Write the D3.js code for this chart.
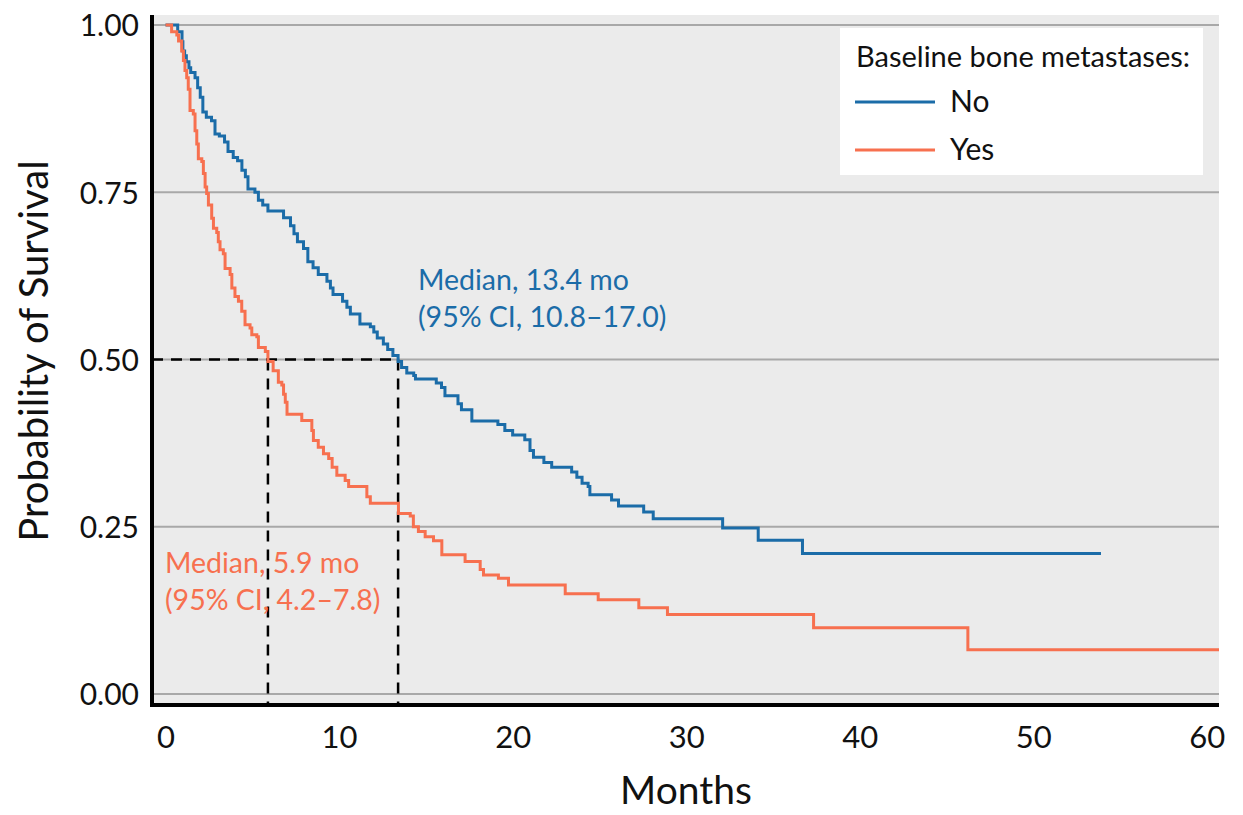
<!DOCTYPE html>
<html>
<head>
<meta charset="utf-8">
<script src="https://cdn.jsdelivr.net/npm/d3@7"></script>
<style>
  body { margin: 0; background: #fff; }
  text { font-family: Lato, "Open Sans", sans-serif; }
</style>
</head>
<body>
<div id="corpo"></div>
<script>
// survival steps: [months, probability]
var timesNo = [0, 0.7, 0.95, 1.0, 1.1, 1.2, 1.35, 1.45, 1.7, 1.85, 2.0, 2.15, 2.35, 2.65, 2.85, 3.1, 3.4, 3.6, 3.9, 4.15, 4.4, 4.6, 4.75, 5.15, 5.35, 5.6, 5.9, 6.8, 7.2, 7.4, 7.6, 7.95, 8.2, 8.5, 8.8, 9.3, 9.5, 9.65, 10.2, 10.45, 10.65, 11.2, 11.8, 12.0, 12.2, 12.55, 12.8, 13.1, 13.4, 13.6, 13.9, 14.3, 14.4, 15.6, 15.9, 16.1, 16.85, 17.05, 17.65, 19.15, 19.55, 20.0, 20.7, 21.0, 21.2, 21.8, 22.25, 23.4, 23.7, 24.0, 24.35, 24.45, 25.7, 26.1, 27.55, 28.1, 32.1, 34.15, 36.7, 53.9];
var survNo = [1.0, 0.99, 0.975, 0.961, 0.954, 0.945, 0.936, 0.929, 0.921, 0.906, 0.892, 0.870, 0.862, 0.857, 0.837, 0.834, 0.825, 0.811, 0.802, 0.797, 0.783, 0.773, 0.755, 0.750, 0.738, 0.731, 0.722, 0.712, 0.700, 0.688, 0.676, 0.666, 0.646, 0.637, 0.627, 0.617, 0.607, 0.597, 0.587, 0.578, 0.568, 0.553, 0.549, 0.541, 0.532, 0.523, 0.515, 0.506, 0.497, 0.488, 0.480, 0.476, 0.471, 0.465, 0.458, 0.446, 0.434, 0.425, 0.408, 0.403, 0.394, 0.387, 0.380, 0.364, 0.354, 0.346, 0.339, 0.332, 0.324, 0.315, 0.310, 0.298, 0.290, 0.281, 0.272, 0.262, 0.248, 0.230, 0.210, 0.210];

var timesYes = [0, 0.35, 0.65, 0.75, 0.93, 1.03, 1.12, 1.22, 1.31, 1.41, 1.6, 1.7, 1.8, 1.89, 2.09, 2.18, 2.28, 2.37, 2.47, 2.66, 2.76, 2.95, 3.04, 3.14, 3.33, 3.43, 3.72, 3.82, 4.0, 4.2, 4.39, 4.58, 4.87, 4.97, 5.26, 5.35, 5.75, 5.9, 6.2, 6.5, 6.7, 6.8, 6.9, 7.0, 7.85, 8.43, 8.52, 8.8, 9.1, 9.4, 9.6, 9.87, 10.35, 10.55, 11.6, 11.8, 13.42, 14.1, 14.28, 14.57, 14.96, 15.44, 15.92, 17.26, 18.13, 18.32, 19.18, 19.76, 23.03, 24.93, 27.27, 28.92, 37.34, 46.23, 60.7];
var survYes = [1.0, 0.99, 0.985, 0.976, 0.961, 0.947, 0.932, 0.921, 0.904, 0.872, 0.867, 0.842, 0.822, 0.800, 0.796, 0.778, 0.758, 0.748, 0.731, 0.711, 0.696, 0.690, 0.676, 0.664, 0.658, 0.636, 0.627, 0.607, 0.594, 0.587, 0.572, 0.552, 0.547, 0.537, 0.534, 0.518, 0.512, 0.497, 0.483, 0.466, 0.462, 0.448, 0.436, 0.418, 0.409, 0.394, 0.379, 0.369, 0.359, 0.352, 0.339, 0.327, 0.319, 0.310, 0.295, 0.285, 0.270, 0.266, 0.250, 0.243, 0.235, 0.229, 0.208, 0.198, 0.186, 0.178, 0.173, 0.163, 0.150, 0.141, 0.129, 0.119, 0.099, 0.066, 0.066];

var xTicks = [0, 10, 20, 30, 40, 50, 60];
var yTicks = [0, 0.25, 0.5, 0.75, 1.0];
var groups = ["No", "Yes"];
var medians = [13.4, 5.9];
var medianLabels = [["Median, 13.4 mo", "(95% CI, 10.8\u201317.0)"], ["Median, 5.9 mo", "(95% CI, 4.2\u20137.8)"]];

var width = 1243, height = 815;
var pLeft = 152, pRight = 1219, pTop = 15, pBottom = 705;

function color(g){
    var colors = { "No": "#1b6ca8", "Yes": "#f7704f" };
    return colors[g];
}

var x = d3.scaleLinear().domain([-0.78, 60.7]).range([pLeft, pRight]);
var y = d3.scaleLinear().domain([-0.0164, 1.0149]).range([pBottom, pTop]);

var svg = d3.select("#corpo").append("svg")
    .attr("width", width)
    .attr("height", height);

// panel background
svg.append("rect")
    .attr("x", pLeft).attr("y", pTop)
    .attr("width", pRight - pLeft).attr("height", pBottom - pTop)
    .style("fill", "#ebebeb");

svg.append("clipPath").attr("id", "clip")
    .append("rect")
    .attr("x", pLeft).attr("y", pTop)
    .attr("width", pRight - pLeft).attr("height", pBottom - pTop);

// grid
svg.selectAll(".grid")
    .data(yTicks)
    .enter().append("line")
    .attr("class", "grid")
    .attr("x1", pLeft).attr("x2", pRight)
    .attr("y1", function(d){ return y(d); })
    .attr("y2", function(d){ return y(d); })
    .style("stroke", "#a8a8a8")
    .style("stroke-width", 2);

// axes (labels only, lines drawn below)
var yAxis = svg.append("g")
    .attr("transform", "translate(" + (pLeft - 10) + ",0)")
    .call(d3.axisLeft(y).tickValues(yTicks).tickFormat(d3.format(".2f")).tickSize(0));
yAxis.select(".domain").remove();
yAxis.selectAll("text")
    .attr("dy", ".36em")
    .style("font-family", "Lato")
    .style("font-size", "30px")
    .style("fill", "#111");

var xAxis = svg.append("g")
    .attr("transform", "translate(0," + (pBottom + 18) + ")")
    .call(d3.axisBottom(x).tickValues(xTicks).tickFormat(d3.format("d")).tickSize(0));
xAxis.select(".domain").remove();
xAxis.selectAll("text")
    .attr("dy", ".71em")
    .style("font-family", "Lato")
    .style("font-size", "31px")
    .style("fill", "#111");

// median reference lines
svg.append("line")
    .attr("x1", pLeft).attr("x2", x(medians[0]))
    .attr("y1", y(0.5)).attr("y2", y(0.5))
    .style("stroke", "#000").style("stroke-width", 2.5).style("stroke-dasharray", "11,8");
svg.selectAll(".medline")
    .data(medians)
    .enter().append("line")
    .attr("class", "medline")
    .attr("x1", function(d){ return x(d); })
    .attr("x2", function(d){ return x(d); })
    .attr("y1", y(0.5)).attr("y2", pBottom)
    .style("stroke", "#000").style("stroke-width", 2.5).style("stroke-dasharray", "11,8");

// curves
var line = d3.line()
    .curve(d3.curveStepAfter)
    .x(function(d){ return x(d[0]); })
    .y(function(d){ return y(d[1]); });

var series = [
    { g: "No", pts: d3.zip(timesNo, survNo) },
    { g: "Yes", pts: d3.zip(timesYes, survYes) }
];

svg.selectAll(".km")
    .data(series)
    .enter().append("path")
    .attr("class", "km")
    .attr("clip-path", "url(#clip)")
    .attr("d", function(d){ return line(d.pts); })
    .style("fill", "none")
    .style("stroke", function(d){ return color(d.g); })
    .style("stroke-width", 3);

// axis lines
svg.append("line")
    .attr("x1", pLeft).attr("x2", pLeft)
    .attr("y1", pTop).attr("y2", pBottom + 2)
    .style("stroke", "#000").style("stroke-width", 4);
svg.append("line")
    .attr("x1", pLeft - 2).attr("x2", pRight)
    .attr("y1", pBottom).attr("y2", pBottom)
    .style("stroke", "#000").style("stroke-width", 4);

// median annotations
var ann = [
    { lines: medianLabels[0], g: "No", x: 418, y: 290 },
    { lines: medianLabels[1], g: "Yes", x: 165, y: 573 }
];
ann.forEach(function(a){
    var t = svg.append("text")
        .attr("x", a.x).attr("y", a.y)
        .style("font-size", "28.5px")
        .style("fill", color(a.g));
    a.lines.forEach(function(l, i){
        t.append("tspan").attr("x", a.x).attr("dy", i == 0 ? 0 : 37).text(l);
    });
});

// legend
var leg = svg.append("g");
leg.append("rect")
    .attr("x", 840).attr("y", 28)
    .attr("width", 363).attr("height", 147)
    .style("fill", "#fff");
leg.append("text")
    .attr("x", 856).attr("y", 67)
    .style("font-size", "29px")
    .style("fill", "#111")
    .text("Baseline bone metastases:");
groups.forEach(function(g, i){
    var yy = 102 + i * 48;
    leg.append("line")
        .attr("x1", 855).attr("x2", 935)
        .attr("y1", yy).attr("y2", yy)
        .style("stroke", color(g)).style("stroke-width", 3);
    leg.append("text")
        .attr("x", 950).attr("y", yy + 10)
        .style("font-size", "30px")
        .style("fill", "#111")
        .text(g);
});

// axis titles
svg.append("text")
    .attr("transform", "translate(48,351) rotate(-90)")
    .attr("text-anchor", "middle")
    .style("font-size", "40px")
    .style("fill", "#111")
    .text("Probability of Survival");
svg.append("text")
    .attr("x", 686).attr("y", 804)
    .attr("text-anchor", "middle")
    .style("font-size", "39px")
    .style("fill", "#111")
    .text("Months");
</script>
</body>
</html>
